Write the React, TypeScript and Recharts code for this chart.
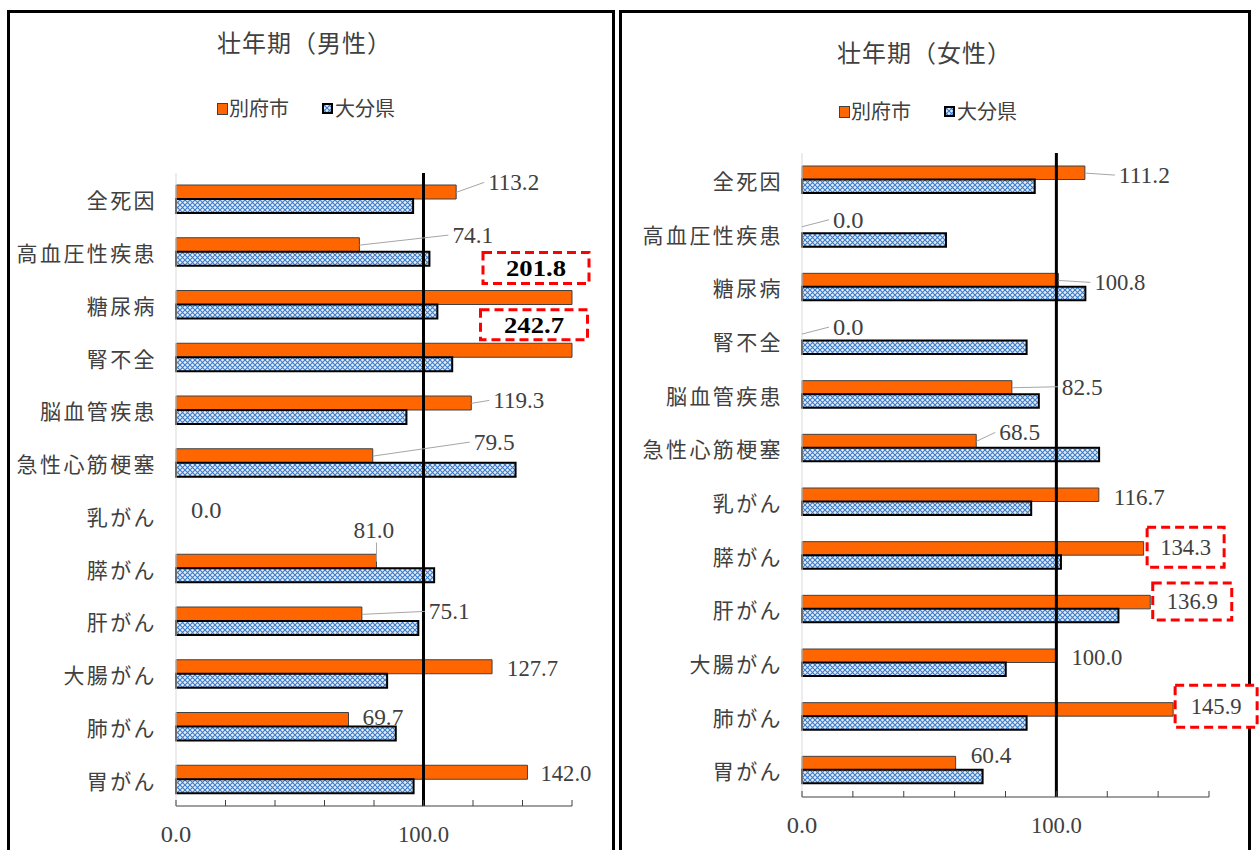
import { BarChart, Bar, XAxis, YAxis, ReferenceLine, ReferenceDot } from 'recharts'

const categories = ['全死因', '高血圧性疾患', '糖尿病', '腎不全', '脳血管疾患', '急性心筋梗塞', '乳がん', '膵がん', '肝がん', '大腸がん', '肺がん', '胃がん']
const maleBeppu = [113.2, 74.1, 201.8, 242.7, 119.3, 79.5, 0.0, 81.0, 75.1, 127.7, 69.7, 142.0]
const maleOita = [95.8, 102.4, 105.6, 111.6, 93.1, 137.2, null, 104.3, 97.9, 85.3, 88.8, 96.0]
const femaleBeppu = [111.2, 0.0, 100.8, 0.0, 82.5, 68.5, 116.7, 134.3, 136.9, 100.0, 145.9, 60.4]
const femaleOita = [91.5, 56.6, 111.4, 88.3, 93.1, 116.8, 90.1, 101.8, 124.4, 80.1, 88.3, 71.0]
const xTicks = [0, 20, 40, 60, 80, 100, 120, 140, 160]
const AXIS_MAX = 160

// label placement (moved by hand in the original), relative to bar end / bar centre
type Spec = { dx?: number; dy?: number; leader?: boolean; box?: { cx: number; cy: number; w: number; h: number } }
const maleSpecs: Spec[] = [
  { dx: 32, dy: -10, leader: true },
  { dx: 93, dy: -10, leader: true },
  { box: { cx: -36, cy: -30, w: 106, h: 31 } },
  { box: { cx: -38, cy: -26, w: 107, h: 30 } },
  { dx: 22, dy: -3, leader: true },
  { dx: 101, dy: -14, leader: true },
  { dx: 15, dy: 1 },
  { dx: -23, dy: -32, leader: true },
  { dx: 67, dy: -3, leader: true },
  { dx: 15, dy: 1 },
  { dx: 14, dy: -3 },
  { dx: 13, dy: 0 },
]
const femaleSpecs: Spec[] = [
  { dx: 34, dy: 2, leader: true },
  { dx: 31, dy: -7, leader: true },
  { dx: 36, dy: 2, leader: true },
  { dx: 31, dy: -7, leader: true },
  { dx: 50, dy: -1, leader: true },
  { dx: 23, dy: -9, leader: true },
  { dx: 15, dy: 2 },
  { box: { cx: 42, cy: -1.5, w: 77, h: 40 } },
  { box: { cx: 42, cy: -1, w: 79, h: 37 } },
  { dx: 15, dy: 1 },
  { box: { cx: 43, cy: -3.5, w: 82, h: 42 } },
  { dx: 15, dy: -8 },
]

const TEXT = '#404040'
const NUM_FONT = "'Liberation Serif', serif"
const JP_FONT = "'Noto Sans CJK JP', sans-serif"

function ValueLabel({ bx, by, value, spec, boldBox }: { bx: number; by: number; value: number; spec: Spec; boldBox: boolean }) {
  const txt = value.toFixed(1)
  if (spec.box) {
    const cx = bx + spec.box.cx
    const cy = by + spec.box.cy
    return (
      <g>
        <rect x={cx - spec.box.w / 2} y={cy - spec.box.h / 2} width={spec.box.w} height={spec.box.h} fill="#fff"
          stroke="#ff0000" strokeWidth={3} strokeDasharray="9 5" />
        <text x={cx} y={cy} textAnchor="middle" dominantBaseline="central" fontFamily={NUM_FONT}
          fontSize={24} fontWeight={boldBox ? 700 : 400} fill={boldBox ? '#000' : TEXT}
          textLength={txt.length * (boldBox ? 12 : 10.2)} lengthAdjust="spacingAndGlyphs">{txt}</text>
      </g>
    )
  }
  const tx = bx + (spec.dx ?? 0)
  const ty = by + (spec.dy ?? 0)
  let leader = null
  if (spec.leader) {
    let lx = tx - 4
    let ly = ty
    if (bx >= tx - 4) {
      lx = bx
      ly = ty + 13
    }
    leader = <line x1={bx} y1={by} x2={lx} y2={ly} stroke="#a6a6a6" strokeWidth={1} />
  }
  return (
    <g>
      {leader}
      <text x={tx} y={ty} dominantBaseline="central" fontFamily={NUM_FONT} fontSize={24} fill={TEXT}
        textLength={txt.length * 10.2} lengthAdjust="spacingAndGlyphs">{txt}</text>
    </g>
  )
}

function XTick(props: any) {
  const { x, y, payload } = props
  const v = payload.value
  return (
    <g>
      <line x1={x} y1={y} x2={x} y2={y - 6} stroke={TEXT} strokeWidth={1} />
      {(v === 0 || v === 100) && (
        <text x={x} y={y + 28} textAnchor="middle" dominantBaseline="central" fontFamily={NUM_FONT}
          fontSize={24} fill={TEXT} textLength={(v === 0 ? 3 : 5) * 10.2} lengthAdjust="spacingAndGlyphs">
          {v.toFixed(1)}
        </text>
      )}
    </g>
  )
}

function YTick(props: any) {
  const { x, y, payload } = props
  return (
    <text x={x} y={y} textAnchor="end" dominantBaseline="central" fontFamily={JP_FONT} fontSize={21}
      letterSpacing={2.4} fill={TEXT}>{payload.value}</text>
  )
}

function LegendRow({ left, top }: { left: number; top: number }) {
  const txt = { position: 'absolute' as const, top: top - 14, fontFamily: JP_FONT, fontSize: 20, color: TEXT, lineHeight: '28px' }
  return (
    <>
      <div style={{ position: 'absolute', left, top: top - 5, width: 9, height: 10, background: '#FF6600', border: '1px solid #404040' }} />
      <div style={{ ...txt, left: left + 12 }}>別府市</div>
      <svg style={{ position: 'absolute', left: left + 105, top: top - 5 }} width={11} height={11}>
        <rect x={1} y={1} width={9} height={9} fill="url(#oitaHatch)" stroke="#000" strokeWidth={2} />
      </svg>
      <div style={{ ...txt, left: left + 118 }}>大分県</div>
    </>
  )
}

type PanelProps = {
  left: number
  width: number
  top: number
  axisH: number
  yW: number
  right: number
  barSize: number
  beppu: number[]
  oita: (number | null)[]
  specs: Spec[]
  boldBox: boolean
}

function Panel({ left, width, top, axisH, yW, right, barSize, beppu, oita, specs, boldBox }: PanelProps) {
  const rows = categories.map((name, i) => ({ name, beppu: beppu[i], oita: oita[i] }))
  return (
    <div style={{ position: 'absolute', left, top: 0 }}>
      <BarChart width={width} height={850} data={rows} layout="vertical" barGap={0} barSize={barSize}
        margin={{ top, right, bottom: 0, left: 0 }}>
        <XAxis type="number" domain={[0, AXIS_MAX]} ticks={xTicks} interval={0} tickSize={0} tickMargin={0}
          tickLine={false} axisLine={{ stroke: TEXT }} height={axisH} tick={(p: any) => <XTick {...p} />} />
        <YAxis type="category" dataKey="name" width={yW} interval={0} axisLine={{ stroke: '#d9d9d9' }}
          tickLine={false} tickMargin={13} tick={(p: any) => <YTick {...p} />} />
        <ReferenceLine x={100} stroke="#000" strokeWidth={3} />
        <Bar name="別府市" dataKey={(d: any) => Math.min(d.beppu, AXIS_MAX)} fill="#FF6600" stroke="#404040"
          strokeWidth={1} isAnimationActive={false} />
        <Bar name="大分県" dataKey="oita" fill="url(#oitaHatch)" stroke="#000" strokeWidth={2} isAnimationActive={false} />
        {categories.map((name, i) => (
          <ReferenceDot key={name} x={Math.min(beppu[i], AXIS_MAX)} y={name} r={1}
            shape={(p: any) => (
              <ValueLabel bx={Number(p.cx)} by={Number(p.cy) - barSize / 2} value={beppu[i]} spec={specs[i]} boldBox={boldBox} />
            )} />
        ))}
      </BarChart>
    </div>
  )
}

export default function App() {
  const title = { position: 'absolute' as const, fontFamily: JP_FONT, fontSize: 24, letterSpacing: 1, color: TEXT, lineHeight: '30px', whiteSpace: 'nowrap' as const }
  return (
    <div style={{ position: 'absolute', left: 0, top: 0, width: 1259, height: 850, overflow: 'hidden', background: '#fff' }}>
      <svg width={0} height={0} style={{ position: 'absolute' }}>
        <defs>
          <pattern id="oitaHatch" patternUnits="userSpaceOnUse" width={5} height={5}>
            <rect width={5} height={5} fill="#e4eef9" />
            <path d="M0,0 L5,5 M5,0 L0,5" stroke="#3d7cc9" strokeWidth={1.1} />
          </pattern>
        </defs>
      </svg>
      <div style={{ position: 'absolute', left: 7, top: 10, width: 608, height: 900, border: '3px solid #000', boxSizing: 'border-box' }} />
      <div style={{ position: 'absolute', left: 619, top: 10, width: 632, height: 900, border: '3px solid #000', boxSizing: 'border-box' }} />

      <div style={{ ...title, left: 217, top: 27 }}>壮年期（男性）</div>
      <div style={{ ...title, left: 837, top: 37 }}>壮年期（女性）</div>
      <LegendRow left={217} top={108} />
      <LegendRow left={839} top={111} />

      <Panel left={0} width={615} top={173} axisH={44} yW={176} right={43} barSize={14}
        beppu={maleBeppu} oita={maleOita} specs={maleSpecs} boldBox={true} />
      <Panel left={620} width={639} top={153} axisH={53} yW={182} right={50} barSize={13.5}
        beppu={femaleBeppu} oita={femaleOita} specs={femaleSpecs} boldBox={false} />
    </div>
  )
}
